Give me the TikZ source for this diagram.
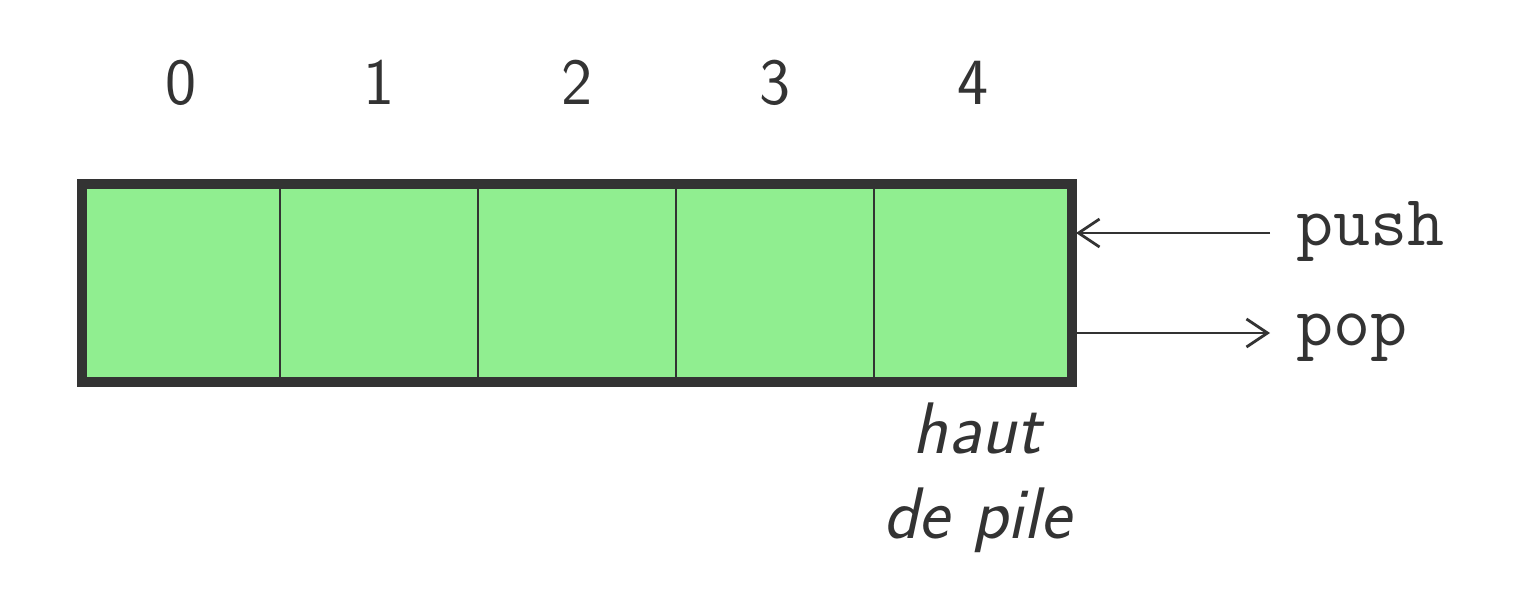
\documentclass[tikz,border=0pt]{standalone}
\usepackage{fontspec}
\usetikzlibrary{arrows.meta}
\definecolor{cellgreen}{HTML}{90EE90}
\definecolor{ink}{HTML}{333333}
\tikzset{
  cellbox/.style={draw=ink, line width=1.4pt, fill=cellgreen, minimum width=99pt, minimum height=99pt, inner sep=0pt, outer sep=0pt},
  idx/.style={text=ink, font=\sffamily\fontsize{33}{39}\selectfont, inner sep=0pt, anchor=base},
  oplabel/.style={text=ink, font=\ttfamily\fontsize{36}{42}\selectfont, inner sep=0pt, anchor=base west},
  toplabel/.style={text=ink, font=\sffamily\itshape\fontsize{36.5}{42.5}\selectfont, inner sep=0pt, align=center, anchor=base},
  oparrow/.style={draw=ink, line width=1.4pt, -{Straight Barb[length=10.5pt, width=14pt, line width=1.4pt]}}
}
\begin{document}
\begin{tikzpicture}[x=0.5pt, y=-0.5pt]
\useasboundingbox (0,0) rectangle (1519,604);
\foreach \i/\x in {0/181,1/379,2/577,3/775,4/973} {
  \node[cellbox] (c\i) at (\x,283) {};
  \node[idx] (n\i) at (\x,105) {\i};
}
\draw[ink, line width=5pt] (c0.north west) rectangle (c4.south east);
\node[oplabel] (push) at (1296,245) {push};
\node[oplabel] (pop) at (1296,345) {pop};
\coordinate (pushstart) at (1270,233);
\coordinate (pushend) at (1076,233);
\coordinate (popstart) at (1077,333);
\coordinate (popend) at (1270,333);
\draw[oparrow] (pushstart) -- (pushend);
\draw[oparrow] (popstart) -- (popend);
\node[toplabel] (haut) at (977,538) {haut\\de pile};
\end{tikzpicture}
\end{document}
